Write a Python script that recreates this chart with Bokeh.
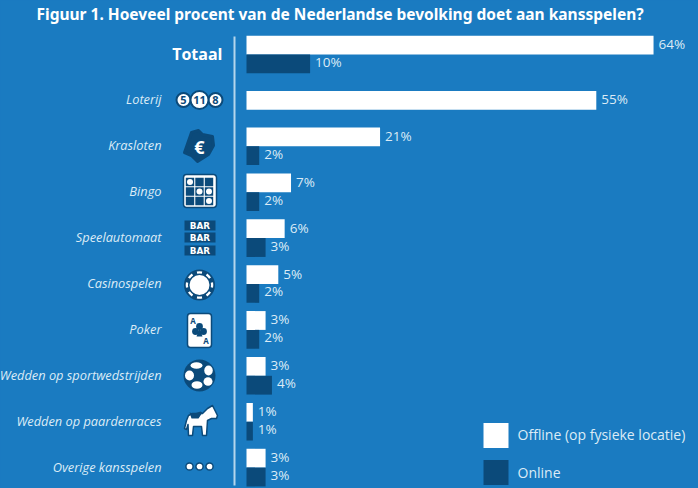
from bokeh.plotting import figure
from bokeh.models import Range1d
from bokeh.embed import file_html
from bokeh.resources import INLINE
from bokeh.core.properties import value
import math

categories = ["Totaal", "Loterij", "Krasloten", "Bingo", "Speelautomaat", "Casinospelen",
              "Poker", "Wedden op sportwedstrijden", "Wedden op paardenraces", "Overige kansspelen"]
offline = [64, 55, 21, 7, 6, 5, 3, 3, 1, 3]
online = [10, None, 2, 2, 3, 2, 2, 4, 1, 3]
title = "Figuur 1. Hoeveel procent van de Nederlandse bevolking doet aan kansspelen?"
legend_labels = ["Offline (op fysieke locatie)", "Online"]

BG = "#1a7bc1"
DARK = "#0b4a7a"
TXT = "#dcebf6"
W, H = 698, 488
X0, PX = 246, 6.36
Y0, ROW = 54, 45.9
BAR = 0.41

p = figure(width=W, height=H, output_backend="svg", toolbar_location=None,
           x_range=Range1d(-X0 / PX, (W - X0) / PX),
           y_range=Range1d((H - Y0) / ROW, -Y0 / ROW),
           min_border=0, background_fill_color=BG, border_fill_color=BG)
p.extra_x_ranges = {"px": Range1d(0, W)}
p.extra_y_ranges = {"px": Range1d(H, 0)}
p.axis.visible = False
p.grid.visible = False
p.outline_line_color = None

PK = dict(x_range_name="px", y_range_name="px")
LAB = "Open Sans"


def ptext(x, y, s, size, color=TXT, align="left", style="normal", font=LAB):
    p.text([x], [y], text=[s], text_font=value(font), text_font_size=f"{size}px",
           text_color=color, text_align=align, text_baseline="middle",
           text_font_style=style, **PK)


# bars, labels
for i, (off, on) in enumerate(zip(offline, online)):
    if on is None:
        top, bot = i - BAR / 2, i + BAR / 2
    else:
        top, bot = i - BAR, i
    p.quad(left=[0], right=[off], top=[top], bottom=[bot], fill_color="white", line_color=None)
    p.text([off], [(top + bot) / 2], text=[f"{off}%"], x_offset=5, y_offset=-1, text_font=value(LAB),
           text_font_size="13.5px", text_color=TXT, text_align="left", text_baseline="middle")
    if on is not None:
        p.quad(left=[0], right=[on], top=[i], bottom=[i + BAR], fill_color=DARK, line_color=None)
        p.text([on], [i + BAR / 2], text=[f"{on}%"], x_offset=5, y_offset=-2, text_font=value(LAB),
               text_font_size="13.5px", text_color=TXT, text_align="left", text_baseline="middle")
    ypx = Y0 + ROW * i
    if i == 0:
        ptext(222, ypx - 1, categories[i], 16, "white", "right", "bold")
    else:
        ptext(161, ypx - 1, categories[i], 12.8, TXT, "right", "italic")

# title and axis line
ptext(36, 13, title, 15.5, "white", "left", "bold", "Noto Sans")
p.segment([234], [36], [234], [485], line_color="#b4d5ec", line_width=2, **PK)

# Loterij icon
yy = 99.5
for cx, r, t in [(183, 7, "5"), (215, 7, "8"), (199, 9, "11")]:
    p.circle([cx], [yy], radius=r, fill_color="white", line_color=DARK, line_width=2, **PK)
    ptext(cx, yy, t, 11, DARK, "center", "bold")

# Krasloten icon
p.patch([184, 191, 198, 202, 212, 213, 208, 197, 191], [152, 132, 130, 134, 136, 145, 154, 161, 155],
        fill_color=DARK, line_color=DARK, line_width=3, line_join="round", **PK)
ptext(199, 146, "€", 18, "white", "center", "bold")

# Bingo icon
p.quad(left=[183], right=[216], top=[174], bottom=[207], fill_color="white", line_color=DARK,
       line_width=1.5, border_radius=3, **PK)
for cx in (189.5, 199, 208.5):
    for cy in (181.5, 191, 200.5):
        p.rect([cx], [cy], width=8.4, height=8.4, fill_color=DARK, line_color=None, **PK)
p.circle([189.5, 199, 208.5, 208.5], [181.5, 191, 191, 200.5], radius=3, fill_color="white",
         line_color=None, **PK)

# Speelautomaat icon
for cy in (225, 237, 250):
    p.rect([199.5], [cy], width=31, height=10, fill_color=DARK, line_color=None, **PK)
    ptext(199.5, cy + 0.3, "BAR", 8.8, "white", "center", "bold", "DejaVu Sans")

# Casinospelen icon
p.circle([199], [284.5], radius=15.5, fill_color=DARK, line_color=None, **PK)
p.circle([199], [284.5], radius=10, fill_color="white", line_color=None, **PK)
for k in range(8):
    a = math.pi / 2 + k * math.pi / 4
    p.annular_wedge([199], [284.5], inner_radius=11.5, outer_radius=13.8, start_angle=a - 0.2,
                    end_angle=a + 0.2, fill_color="white", line_color=None, **PK)

# Poker icon
p.quad(left=[187], right=[211], top=[313], bottom=[347], fill_color="white", line_color=DARK,
       line_width=1.5, border_radius=3, **PK)
ptext(192.5, 319.5, "A", 8, DARK, "center", "bold")
ptext(205.5, 340, "A", 8, DARK, "center", "bold")
p.circle([199, 195, 203], [326, 331, 331], radius=3.4, fill_color=DARK, line_color=None, **PK)
p.patch([199, 196, 202], [327, 336, 336], fill_color=DARK, line_color=None, **PK)

# Sport icon
p.circle([199], [375], radius=16, fill_color=DARK, line_color=None, **PK)
p.ellipse([196, 189, 208, 196.5, 207.5], [365, 375, 370, 384.5, 381],
          width=[12, 9, 8.5, 11, 9], height=[6.5, 10, 10, 7.5, 8.5], angle=[0, 0, 0, 0, 0],
          fill_color="white", line_color=None, **PK)

# Horse icon
horse_x = [217, 212, 207, 202, 192, 188, 186, 184, 186, 187.5, 188, 192, 193, 201, 202, 206, 207, 211, 216]
horse_y = [415, 405, 408, 413, 413, 415, 420, 428, 429, 424, 435, 435, 426, 426, 435, 435, 420, 418, 418]
p.patch(horse_x, horse_y, fill_color="white", line_color=DARK, line_width=1.5, line_join="round", **PK)
p.patch([189, 194, 200, 202, 198, 191], [412, 413, 411, 412, 418, 418], fill_color=DARK, line_color=None, **PK)

# Overige icon
p.circle([189, 199, 209], [466, 466, 466], radius=3.6, fill_color="white", line_color=DARK,
         line_width=1.5, **PK)

# Legend
for cy, col, lab, ty in zip((435, 472), ("white", DARK), legend_labels, (434, 471.5)):
    p.quad(left=[483], right=[508], top=[cy - 12.5], bottom=[cy + 12.5], fill_color=col, line_color=None, **PK)
    ptext(517, ty, lab, 14)

html = file_html(p, INLINE)
html = html.replace("</head>", f"<style>html,body{{margin:0;padding:0;overflow:hidden;background:{BG}}}</style></head>", 1)
open("out.html", "w").write(html)
